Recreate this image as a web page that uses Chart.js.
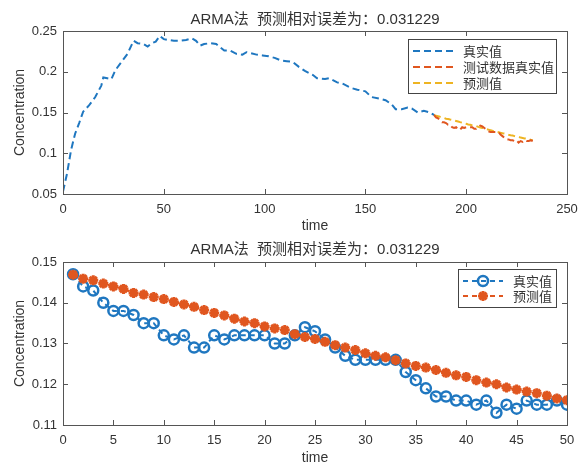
<!DOCTYPE html>
<html>
<head>
<meta charset="utf-8">
<script src="https://cdn.jsdelivr.net/npm/chart.js@4/dist/chart.umd.min.js"></script>
<style>
  body { margin: 0; background: #fff; }
  #wrap { position: relative; width: 587px; height: 467px; }
  .box { position: absolute; left: 0; width: 587px; }
</style>
</head>
<body>
<div id="wrap">
  <div class="box" style="top:0;height:233px"><canvas id="topChart"></canvas></div>
  <div class="box" style="top:233px;height:234px"><canvas id="bottomChart"></canvas></div>
</div>
<script>
// full series (time, concentration)
const topX = [0, 2, 4, 6, 8, 10, 13, 16, 19, 20, 22, 24, 26, 29, 32, 35, 37, 40, 42, 44,
  46, 48, 50, 52, 55, 58, 61, 64, 66, 68, 70, 73, 76, 78, 80, 83, 86, 89, 91, 93,
  96, 99, 102, 105, 108, 111, 114, 117, 120, 124, 126, 130, 132, 136, 139, 143, 146, 150, 153, 157,
  160, 163, 165, 168, 171, 173, 176, 179, 182, 184];
const topY = [0.053, 0.075, 0.104, 0.124, 0.137, 0.151, 0.159, 0.169, 0.183, 0.193, 0.192, 0.191, 0.202, 0.212, 0.222, 0.238, 0.235, 0.234, 0.231, 0.235,
  0.237, 0.244, 0.240, 0.239, 0.238, 0.238, 0.239, 0.241, 0.238, 0.232, 0.234, 0.235, 0.234, 0.230, 0.226, 0.226, 0.222, 0.221, 0.224, 0.223,
  0.221, 0.220, 0.219, 0.217, 0.214, 0.213, 0.212, 0.206, 0.201, 0.196, 0.192, 0.191, 0.192, 0.187, 0.185, 0.180, 0.178, 0.176, 0.169, 0.167,
  0.165, 0.160, 0.154, 0.154, 0.156, 0.155, 0.150, 0.152, 0.150, 0.147];

// test segment (50 points)
const testStart = 184;
const testTrue = [0.147, 0.144, 0.143, 0.140, 0.138, 0.138, 0.137, 0.135, 0.135, 0.132,
  0.131, 0.132, 0.129, 0.129, 0.132, 0.131, 0.132, 0.132, 0.132, 0.132,
  0.130, 0.130, 0.132, 0.134, 0.133, 0.131, 0.129, 0.127, 0.126, 0.126,
  0.126, 0.126, 0.126, 0.123, 0.121, 0.119, 0.117, 0.117, 0.116, 0.116,
  0.115, 0.116, 0.113, 0.115, 0.114, 0.116, 0.115, 0.115, 0.116, 0.115];
const testPred = [0.1469, 0.1459, 0.1455, 0.1447, 0.1440, 0.1434, 0.1424, 0.1420, 0.1414, 0.1409,
  0.1402, 0.1396, 0.1390, 0.1382, 0.1375, 0.1369, 0.1361, 0.1354, 0.1350, 0.1342,
  0.1337, 0.1333, 0.1323, 0.1316, 0.1311, 0.1304, 0.1296, 0.1290, 0.1284, 0.1276,
  0.1270, 0.1266, 0.1259, 0.1251, 0.1245, 0.1241, 0.1235, 0.1228, 0.1222, 0.1218,
  0.1210, 0.1204, 0.1200, 0.1192, 0.1187, 0.1182, 0.1178, 0.1172, 0.1165, 0.1161];

const titleText = "ARMA法  预测相对误差为：0.031229";
const topLabels = ["真实值", "测试数据真实值", "预测值"];
const bottomLabels = ["真实值", "预测值"];

const blue = "#1f77c0";
const orange = "#e0561f";
const yellow = "#eeb422";
const axisColor = "#555";
const textColor = "#333";

Chart.defaults.font.family = "'Liberation Sans', Arial, 'Noto Sans CJK SC', sans-serif";
Chart.defaults.font.size = 13;
Chart.defaults.color = textColor;

// MATLAB style box with inward ticks
const matlabBox = {
  id: "matlabBox",
  afterDraw(chart) {
    const { ctx, chartArea: a, scales } = chart;
    ctx.save();
    ctx.strokeStyle = axisColor;
    ctx.lineWidth = 1;
    ctx.strokeRect(Math.round(a.left) + 0.5, Math.round(a.top) + 0.5,
      Math.round(a.right - a.left), Math.round(a.bottom - a.top));
    ctx.beginPath();
    scales.x.ticks.forEach((t) => {
      const px = Math.round(scales.x.getPixelForValue(t.value)) + 0.5;
      ctx.moveTo(px, a.bottom); ctx.lineTo(px, a.bottom - 5);
      ctx.moveTo(px, a.top); ctx.lineTo(px, a.top + 5);
    });
    scales.y.ticks.forEach((t) => {
      const py = Math.round(scales.y.getPixelForValue(t.value)) + 0.5;
      ctx.moveTo(a.left, py); ctx.lineTo(a.left + 5, py);
      ctx.moveTo(a.right, py); ctx.lineTo(a.right - 5, py);
    });
    ctx.stroke();
    ctx.restore();
  },
};

// boxed legend inside the plot area
const boxLegend = {
  id: "boxLegend",
  afterDraw(chart, args, opts) {
    const { ctx } = chart;
    ctx.save();
    ctx.fillStyle = "#fff";
    ctx.fillRect(opts.x, opts.y, opts.w, opts.h);
    ctx.strokeStyle = "#444";
    ctx.lineWidth = 1;
    ctx.strokeRect(opts.x + 0.5, opts.y + 0.5, opts.w, opts.h);
    chart.data.datasets.forEach((ds, i) => {
      const y = opts.y + opts.firstRow + i * opts.rowH;
      const x1 = opts.x + 5, x2 = x1 + opts.lineLen;
      ctx.strokeStyle = ds.borderColor;
      ctx.lineWidth = 2;
      ctx.setLineDash(ds.borderDash || []);
      ctx.beginPath();
      ctx.moveTo(x1, y); ctx.lineTo(x2, y);
      ctx.stroke();
      ctx.setLineDash([]);
      if (ds.pointRadius > 0) {
        ctx.fillStyle = ds.pointBackgroundColor;
        ctx.strokeStyle = ds.pointBorderColor;
        ctx.lineWidth = ds.pointBorderWidth;
        Chart.helpers.drawPoint(ctx, { pointStyle: ds.pointStyle, radius: ds.pointRadius, borderWidth: ds.pointBorderWidth, rotation: 0 }, (x1 + x2) / 2, y);
      }
      ctx.fillStyle = textColor;
      ctx.font = "13px 'Noto Sans CJK SC', sans-serif";
      ctx.textBaseline = "middle";
      ctx.fillText(ds.label, x2 + 10, y);
    });
    ctx.restore();
  },
};

// 0.10 -> "0.1", like the reference
const shortNum = (v) => String(parseFloat(Number(v).toFixed(4)));

function scaleOpts(min, max, step, xHeight, titlePad) {
  return {
    x: {
      type: "linear", min: min[0], max: max[0],
      grid: { display: false, drawTicks: false },
      border: { display: false },
      ticks: { stepSize: step[0], padding: 8 },
      title: { display: true, text: "time", font: { size: 14 }, padding: { top: 0, bottom: titlePad } },
      afterFit(s) { s.height = xHeight; },
    },
    y: {
      min: min[1], max: max[1],
      grid: { display: false, drawTicks: false },
      border: { display: false },
      ticks: { stepSize: step[1], padding: 6, callback: shortNum },
      title: { display: true, text: "Concentration", font: { size: 14 }, padding: { top: 12, bottom: 0 } },
      afterFit(s) { s.width = 63; },
    },
  };
}

function titleOpts(top, bottom) {
  return {
    display: true, fullSize: false, text: titleText, color: textColor,
    font: { size: 15, weight: "normal", lineHeight: 1.2 },
    padding: { top: top, bottom: bottom },
  };
}

const topData = {
  datasets: [
    {
      label: topLabels[0],
      data: topX.map((x, i) => ({ x: x, y: topY[i] })),
      borderColor: blue, borderWidth: 2, borderDash: [7, 4], pointRadius: 0,
    },
    {
      label: topLabels[1],
      data: testTrue.map((y, i) => ({ x: testStart + i, y: y })),
      borderColor: orange, borderWidth: 2, borderDash: [7, 4], pointRadius: 0,
    },
    {
      label: topLabels[2],
      data: testPred.map((y, i) => ({ x: testStart + i, y: y })),
      borderColor: yellow, borderWidth: 2, borderDash: [7, 4], pointRadius: 0,
    },
  ],
};

new Chart(document.getElementById("topChart"), {
  type: "line",
  data: topData,
  options: {
    responsive: true, maintainAspectRatio: false, animation: false,
    layout: { padding: { left: 0, right: 20, top: 0, bottom: 0 } },
    scales: scaleOpts([0, 0.05], [250, 0.25], [50, 0.05], 39, -2),
    plugins: {
      legend: { display: false },
      tooltip: { enabled: false },
      title: titleOpts(11, 2),
      boxLegend: { x: 408, y: 39, w: 148, h: 54, firstRow: 12, rowH: 16, lineLen: 40 },
    },
  },
  plugins: [matlabBox, boxLegend],
});

const idx = testTrue.map((_, i) => i + 1);

new Chart(document.getElementById("bottomChart"), {
  type: "line",
  data: {
    datasets: [
      {
        label: bottomLabels[0],
        data: idx.map((x, i) => ({ x: x, y: testTrue[i] })),
        borderColor: blue, borderWidth: 2, borderDash: [5, 4],
        pointStyle: "circle", pointRadius: 5, pointBorderWidth: 2.5,
        pointBorderColor: blue, pointBackgroundColor: "rgba(0,0,0,0)",
        order: 2,
      },
      {
        label: bottomLabels[1],
        data: idx.map((x, i) => ({ x: x, y: testPred[i] })),
        borderColor: orange, borderWidth: 2, borderDash: [5, 4],
        pointStyle: "star", pointRadius: 5, pointBorderWidth: 3,
        pointBorderColor: orange, pointBackgroundColor: orange,
        order: 1,
      },
    ],
  },
  options: {
    responsive: true, maintainAspectRatio: false, animation: false,
    layout: { padding: { left: 0, right: 20, top: 0, bottom: 0 } },
    scales: scaleOpts([0, 0.11], [50, 0.15], [5, 0.01], 42, 0),
    plugins: {
      legend: { display: false },
      tooltip: { enabled: false },
      title: titleOpts(8, 3),
      boxLegend: { x: 458, y: 36, w: 98, h: 38, firstRow: 12, rowH: 15, lineLen: 40 },
    },
  },
  plugins: [matlabBox, boxLegend],
});
</script>
</body>
</html>
